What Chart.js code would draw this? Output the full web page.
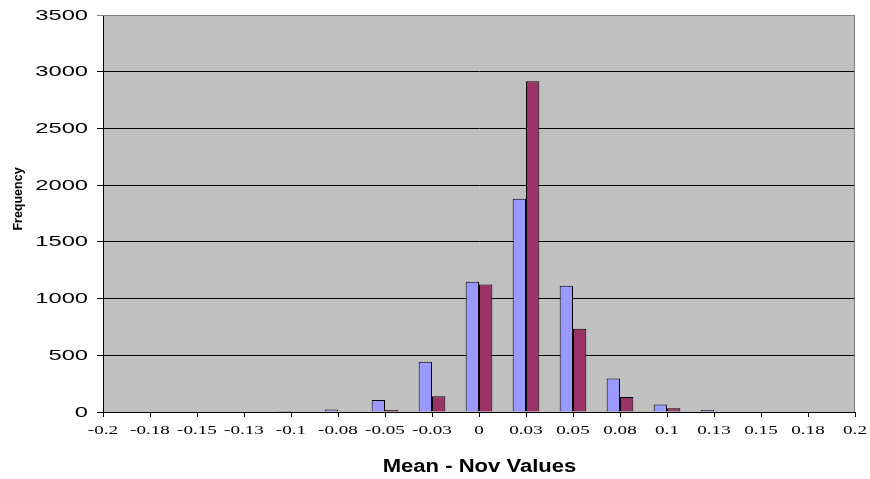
<!DOCTYPE html>
<html>
<head>
<meta charset="utf-8">
<title>Mean - Nov Values</title>
<script src="https://cdn.jsdelivr.net/npm/chart.js@4/dist/chart.umd.min.js"></script>
<style>
  html, body { margin: 0; padding: 0; background: #ffffff; }
  #wrap { width: 870px; height: 479px; position: relative; }
</style>
</head>
<body>
<div id="wrap"><canvas id="chart"></canvas></div>
<script>
// Histogram bins (difference of mean and November values)
const binLabels = ['-0.2', '-0.18', '-0.15', '-0.13', '-0.1', '-0.08', '-0.05', '-0.03', '0',
                   '0.03', '0.05', '0.08', '0.1', '0.13', '0.15', '0.18', '0.2'];
// Frequencies of the two series per bin
const seriesA = [0, 0, 0, 0, 8, 22, 106, 443, 1149, 1880, 1113, 296, 67, 18, 0, 0, 0];
const seriesB = [0, 0, 0, 0, 0, 2, 18, 138, 1125, 2915, 734, 132, 32, 0, 0, 0, 0];
// Frequency axis range
const yMin = 0;
const yMax = 3500;
const yStep = 500;

const xTitle = 'Mean - Nov Values';
const yTitle = 'Frequency';

// Grey plot area with a thin darker frame
const plotBackground = {
  id: 'plotBackground',
  beforeDraw(chart) {
    const { ctx, chartArea: a } = chart;
    ctx.save();
    ctx.fillStyle = '#c0c0c0';
    ctx.fillRect(a.left, a.top, a.right - a.left, a.bottom - a.top);
    ctx.restore();
  },
  afterDatasetsDraw(chart) {
    const { ctx, chartArea: a } = chart;
    ctx.save();
    ctx.strokeStyle = '#808080';
    ctx.lineWidth = 1;
    ctx.beginPath();
    ctx.moveTo(a.left, a.top + 0.5);
    ctx.lineTo(a.right - 0.5, a.top + 0.5);
    ctx.lineTo(a.right - 0.5, a.bottom);
    ctx.stroke();
    ctx.restore();
  }
};

// Tick labels and axis titles, drawn with the wide lettering of the original sheet
function wideText(ctx, text, x, y, font, sx, align, baseline, rot) {
  ctx.save();
  ctx.translate(x, y);
  if (rot) ctx.rotate(rot);
  ctx.scale(sx, 1);
  ctx.font = font;
  ctx.fillStyle = '#000000';
  ctx.textAlign = align;
  ctx.textBaseline = baseline;
  ctx.fillText(text, 0, 0);
  ctx.restore();
}

const axisText = {
  id: 'axisText',
  afterDraw(chart) {
    const { ctx } = chart;
    const xs = chart.scales.x;
    const ys = chart.scales.y;
    ys.ticks.forEach((t, i) => {
      wideText(ctx, String(t.value), 88, ys.getPixelForTick(i) + 0.5,
               '15px "Liberation Sans", Arial, sans-serif', 1.58, 'right', 'middle');
    });
    xs.ticks.forEach((t, i) => {
      wideText(ctx, String(t.label), xs.getPixelForTick(i), 433.5,
               '13px "Liberation Serif", "Times New Roman", serif', 1.47, 'center', 'alphabetic');
    });
    const a = chart.chartArea;
    wideText(ctx, xTitle, (a.left + a.right) / 2 + 0.5, 471.5,
             'bold 17.5px "Liberation Sans", Arial, sans-serif', 1.26, 'center', 'alphabetic');
    wideText(ctx, yTitle, 22, 199,
             'bold 12.5px "Liberation Sans", Arial, sans-serif', 1, 'center', 'alphabetic', -Math.PI / 2);
  }
};

new Chart(document.getElementById('chart'), {
  type: 'bar',
  data: {
    labels: binLabels,
    datasets: [
      {
        label: 'Series 1',
        data: seriesA,
        backgroundColor: '#9999ff',
        borderColor: '#000000',
        borderWidth: 1,
        categoryPercentage: 0.567,
        barPercentage: 1.0
      },
      {
        label: 'Series 2',
        data: seriesB,
        backgroundColor: '#993366',
        borderColor: '#000000',
        borderWidth: 1,
        categoryPercentage: 0.567,
        barPercentage: 1.0
      }
    ]
  },
  options: {
    responsive: true,
    maintainAspectRatio: false,
    animation: false,
    devicePixelRatio: 1,
    layout: { padding: { top: 15, right: 15, bottom: 0, left: 0 } },
    plugins: {
      legend: { display: false },
      tooltip: { enabled: false },
      title: { display: false }
    },
    scales: {
      x: {
        type: 'category',
        offset: false,
        grid: {
          offset: false,
          drawOnChartArea: false,
          drawTicks: true,
          tickLength: 5,
          color: '#000000'
        },
        border: { display: true, color: '#000000', width: 1 },
        ticks: { display: false, autoSkip: false, maxRotation: 0 },
        afterFit(scale) { scale.height = 67; }
      },
      y: {
        min: yMin,
        max: yMax,
        grid: {
          drawTicks: true,
          tickLength: 6,
          color: (c) => (c.tick && c.tick.value === yMax ? '#808080' : '#000000')
        },
        border: { display: true, color: '#000000', width: 1 },
        ticks: { display: false, stepSize: yStep },
        afterFit(scale) { scale.width = 103; }
      }
    }
  },
  plugins: [plotBackground, axisText]
});
</script>
</body>
</html>
